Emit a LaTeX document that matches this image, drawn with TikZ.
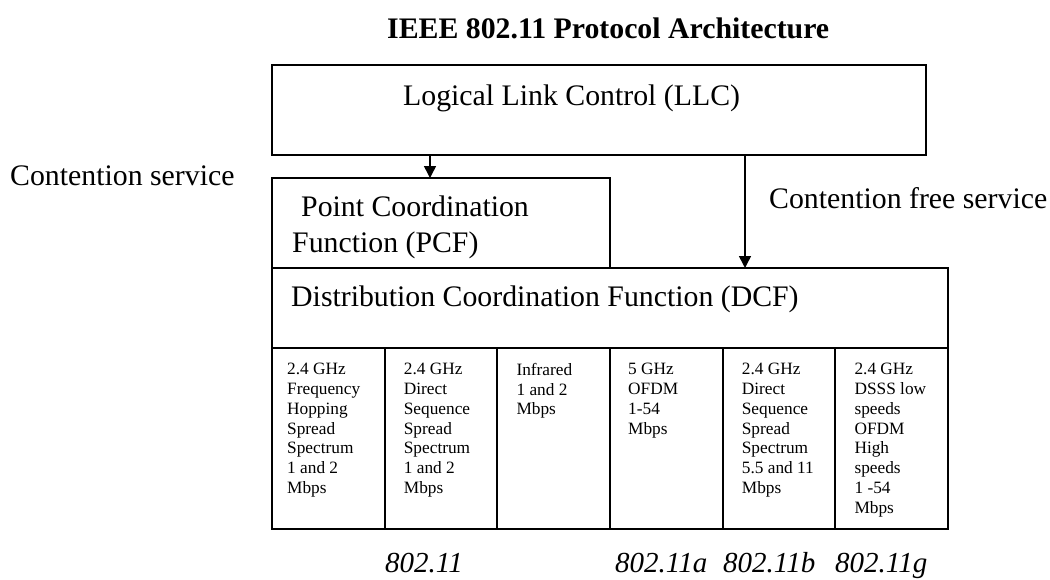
\documentclass[tikz,border=0pt]{standalone}
\usepackage{fontspec}
\setmainfont{Liberation Serif}
\usetikzlibrary{arrows.meta}

\begin{document}
\begin{tikzpicture}[x=1pt,y=-1pt,
  layerbox/.style={draw, line width=1.8pt, inner sep=0pt, outer sep=0pt,
    anchor=north west, minimum width=#1},
  colbox/.style={draw, line width=1.8pt, inner sep=0pt, outer sep=0pt,
    anchor=north west, minimum width=112.67pt, minimum height=181pt},
  bigtext/.style={inner sep=0pt, anchor=base west,
    font=\fontsize{29.8}{36}\selectfont},
  coltext/.style={inner sep=0pt, anchor=north west, align=left,
    font=\fontsize{17.3}{19.8}\selectfont,
    execute at begin node=\rule{0pt}{13pt}},
  stdlabel/.style={inner sep=0pt, anchor=base west,
    font=\fontsize{29}{34}\selectfont\itshape},
  flow/.style={line width=1.5pt, -{Triangle[width=12pt,length=12pt]}}
]
\useasboundingbox (0,0) rectangle (1050,579);

% title
\node[bigtext, font=\fontsize{29.8}{36}\selectfont\bfseries] (title) at (387,38)
  {IEEE 802.11 Protocol Architecture};

% layer boxes
\node[layerbox=654pt, minimum height=90pt] (llc) at (272,65) {};
\node[layerbox=338pt, minimum height=90pt] (pcf) at (272,178) {};
\node[layerbox=676pt, minimum height=80pt] (dcf) at (272,268) {};

\node[bigtext] (llctext) at (403,105) {Logical Link Control (LLC)};
\node[bigtext, anchor=north west, align=left] (pcftext) at (292,195.6)
  {\hspace*{9pt}Point Coordination\\Function (PCF)};
\node[bigtext] (dcftext) at (291,306) {Distribution Coordination Function (DCF)};

% service labels
\node[bigtext] (cs) at (10,185) {Contention service};
\node[bigtext] (cfs) at (769,208) {Contention free service};

% service arrows
\draw[flow] ([xshift=158pt]llc.south west) -- ([xshift=158pt]pcf.north west);
\draw[flow] ([xshift=473pt]llc.south west) -- ([xshift=473pt]dcf.north west);

% physical layer columns
\node[colbox] (c1) at (272,348) {};
\node[colbox] (c2) at (384.67,348) {};
\node[colbox] (c3) at (497.33,348) {};
\node[colbox] (c4) at (610,348) {};
\node[colbox] (c5) at (722.67,348) {};
\node[colbox] (c6) at (835.33,348) {};

\node[coltext] (t1) at ([xshift=15pt,yshift=-15pt]c1.north west)
  {2.4 GHz\\Frequency\\Hopping\\Spread\\Spectrum\\1 and 2\\Mbps};
\node[coltext] (t2) at ([xshift=19pt,yshift=-15pt]c2.north west)
  {2.4 GHz\\Direct\\Sequence\\Spread\\Spectrum\\1 and 2\\Mbps};
\node[coltext] (t3) at ([xshift=19pt,yshift=-15pt]c3.north west)
  {Infrared\\1 and 2\\Mbps};
\node[coltext] (t4) at ([xshift=18pt,yshift=-15pt]c4.north west)
  {5 GHz\\OFDM\\1-54\\Mbps};
\node[coltext] (t5) at ([xshift=19pt,yshift=-15pt]c5.north west)
  {2.4 GHz\\Direct\\Sequence\\Spread\\Spectrum\\5.5 and 11\\Mbps};
\node[coltext] (t6) at ([xshift=19pt,yshift=-15pt]c6.north west)
  {2.4 GHz\\DSSS low\\speeds\\OFDM\\High\\speeds\\1 -54\\Mbps};

% standard names
\node[stdlabel] (s1) at (385,572) {802.11};
\node[stdlabel] (s2) at (615,572) {802.11a};
\node[stdlabel] (s3) at (723,572) {802.11b};
\node[stdlabel] (s4) at (835,572) {802.11g};
\end{tikzpicture}
\end{document}
